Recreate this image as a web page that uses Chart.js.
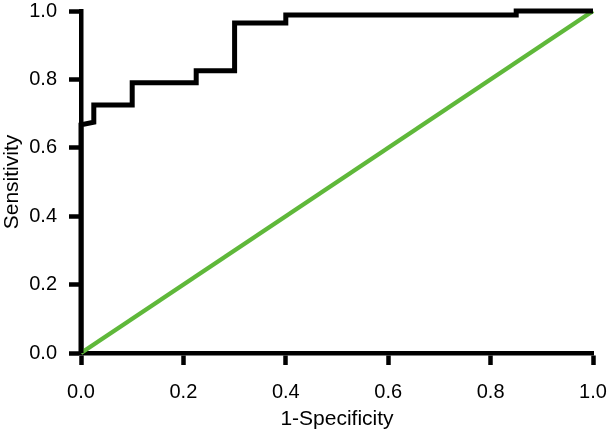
<!DOCTYPE html>
<html>
<head>
<meta charset="utf-8">
<script src="https://cdn.jsdelivr.net/npm/chart.js@4/dist/chart.umd.min.js"></script>
<style>
  html, body { margin: 0; padding: 0; background: #ffffff; }
  #wrap { width: 608px; height: 432px; }
</style>
</head>
<body>
<div id="wrap"><canvas id="c" width="608" height="432"></canvas></div>
<script>
// ROC curve vertices (1-Specificity, Sensitivity)
const rocX = [0, 0, 0.025, 0.025, 0.1, 0.1, 0.225, 0.225, 0.3, 0.3, 0.4, 0.4, 0.85, 0.85, 1.0];
const rocY = [0, 0.667, 0.675, 0.725, 0.725, 0.79, 0.79, 0.825, 0.825, 0.965, 0.965, 0.988, 0.988, 1.0, 1.0];
// Reference diagonal
const refX = [0, 1];
const refY = [0, 1];
const tickValues = [0, 0.2, 0.4, 0.6, 0.8, 1.0];
const xTitle = '1-Specificity';
const yTitle = 'Sensitivity';

const toPts = (xs, ys) => xs.map((x, i) => ({ x: x, y: ys[i] }));
const FONT = 'Liberation Sans, Arial, Helvetica, sans-serif';

Chart.defaults.font.family = FONT;
Chart.defaults.color = '#000000';

const noPad = (s) => { s.paddingTop = 0; s.paddingBottom = 0; s.paddingLeft = 0; s.paddingRight = 0; };

new Chart(document.getElementById('c'), {
  type: 'scatter',
  data: {
    datasets: [
      {
        data: toPts(refX, refY),
        showLine: true,
        borderColor: '#5fb83a',
        borderWidth: 4.5,
        pointRadius: 0,
        clip: false,
        order: 2
      },
      {
        data: toPts(rocX, rocY),
        showLine: true,
        borderColor: '#000000',
        borderWidth: 5,
        borderJoinStyle: 'miter',
        borderCapStyle: 'butt',
        pointRadius: 0,
        clip: false,
        order: 1
      }
    ]
  },
  options: {
    responsive: false,
    animation: false,
    events: [],
    layout: { padding: { left: 0, right: 15, top: 11, bottom: 0 } },
    plugins: { legend: { display: false }, tooltip: { enabled: false } },
    scales: {
      x: {
        type: 'linear',
        min: 0, max: 1,
        afterBuildTicks: (s) => { s.ticks = tickValues.map(v => ({ value: v })); },
        ticks: {
          callback: (v) => Number(v).toFixed(1),
          font: { size: 20 },
          color: '#000000',
          padding: 15,
          maxRotation: 0
        },
        grid: {
          drawOnChartArea: false,
          drawTicks: true,
          tickLength: 12,
          tickWidth: 4.5,
          tickColor: '#000000'
        },
        border: { display: true, color: '#000000', width: 4.5 },
        title: {
          display: true,
          text: xTitle,
          font: { size: 21 },
          color: '#000000',
          padding: { top: 6, bottom: 0 }
        },
        afterFit: (s) => { s.height = 79; noPad(s); }
      },
      y: {
        type: 'linear',
        min: 0, max: 1,
        afterBuildTicks: (s) => { s.ticks = tickValues.map(v => ({ value: v })); },
        ticks: {
          callback: (v) => Number(v).toFixed(1),
          font: { size: 20 },
          color: '#000000',
          padding: 12
        },
        grid: {
          drawOnChartArea: false,
          drawTicks: true,
          tickLength: 12,
          tickWidth: 4.5,
          tickColor: '#000000'
        },
        border: { display: true, color: '#000000', width: 4.5 },
        title: {
          display: true,
          text: yTitle,
          font: { size: 21 },
          color: '#000000',
          padding: { top: 0, bottom: 4 }
        },
        afterFit: (s) => { s.width = 81; noPad(s); }
      }
    }
  }
});
</script>
</body>
</html>
